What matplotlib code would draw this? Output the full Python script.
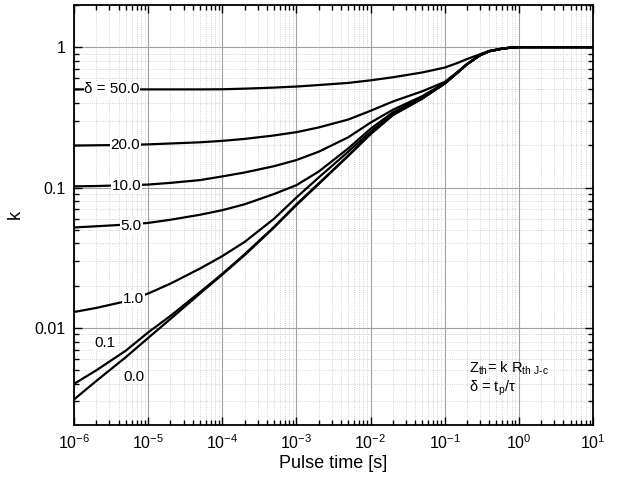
import matplotlib
matplotlib.use("Agg")
import matplotlib.pyplot as plt
import matplotlib.ticker as mticker

plt.rcParams["font.family"] = ["Liberation Sans", "DejaVu Sans"]
plt.rcParams["mathtext.fontset"] = "custom"
plt.rcParams["mathtext.rm"] = "Liberation Sans"

# ---------------------------------------------------------------------------
# Data: pulse time [s] -> k, one list per duty cycle
# ---------------------------------------------------------------------------
t_pts = [1e-6, 2e-6, 5e-6, 1e-5, 2e-5, 5e-5, 1e-4, 2e-4, 5e-4, 1e-3, 2e-3, 5e-3,
         1e-2, 2e-2, 5e-2, 0.1, 0.15, 0.2, 0.3, 0.4, 0.6, 0.8, 1.0, 10.0]

k_50 = [0.500, 0.500, 0.500, 0.500, 0.500, 0.500, 0.501, 0.506, 0.515, 0.524, 0.537, 0.556,
        0.580, 0.610, 0.660, 0.715, 0.772, 0.822, 0.890, 0.940, 0.977, 0.994, 1.0, 1.0]
k_20 = [0.199, 0.200, 0.201, 0.203, 0.206, 0.210, 0.215, 0.222, 0.235, 0.248, 0.268, 0.305,
        0.352, 0.410, 0.485, 0.565, 0.668, 0.758, 0.877, 0.936, 0.975, 0.993, 1.0, 1.0]
k_10 = [0.102, 0.1025, 0.104, 0.105, 0.108, 0.113, 0.120, 0.128, 0.142, 0.157, 0.180, 0.228,
        0.290, 0.358, 0.448, 0.555, 0.662, 0.756, 0.876, 0.935, 0.975, 0.993, 1.0, 1.0]
k_5 = [0.052, 0.053, 0.0545, 0.056, 0.059, 0.064, 0.069, 0.076, 0.090, 0.104, 0.130, 0.190,
       0.262, 0.343, 0.440, 0.552, 0.661, 0.755, 0.875, 0.935, 0.975, 0.993, 1.0, 1.0]
k_1 = [0.0130, 0.0139, 0.0155, 0.0176, 0.0207, 0.0265, 0.0325, 0.041, 0.060, 0.085, 0.118, 0.180,
       0.250, 0.333, 0.434, 0.550, 0.660, 0.755, 0.875, 0.935, 0.975, 0.993, 1.0, 1.0]
k_01 = [0.0040, 0.0050, 0.0069, 0.0093, 0.0122, 0.0180, 0.0243, 0.0335, 0.0525, 0.076, 0.107, 0.169,
        0.241, 0.329, 0.431, 0.550, 0.660, 0.755, 0.875, 0.935, 0.975, 0.993, 1.0, 1.0]
k_00 = [0.0031, 0.0042, 0.0062, 0.0085, 0.0116, 0.0176, 0.0240, 0.0330, 0.0520, 0.075, 0.106, 0.168,
        0.240, 0.328, 0.430, 0.550, 0.660, 0.755, 0.875, 0.935, 0.975, 0.993, 1.0, 1.0]

curves = [k_50, k_20, k_10, k_5, k_1, k_01, k_00]

# curve labels: (text, t, k)
labels = [
    ("\u03b4 = 50.0", 3.25e-6, 0.500),
    ("20.0", 4.9e-6, 0.200),
    ("10.0", 5.1e-6, 0.103),
    ("5.0", 5.9e-6, 0.053),
    ("1.0", 6.4e-6, 0.0160),
    ("0.1", 2.6e-6, 0.0078),
    ("0.0", 6.4e-6, 0.0045),
]

x_major = [1e-6, 1e-5, 1e-4, 1e-3, 1e-2, 1e-1, 1, 10]
y_major = [0.01, 0.1, 1]
y_major_labels = ["0.01", "0.1", "1"]

# ---------------------------------------------------------------------------
fig = plt.figure(figsize=(6.17, 4.84), dpi=100)
ax = fig.add_axes([0.120, 0.122, 0.841, 0.868])

for k in curves:
    ax.plot(t_pts, k, color="black", lw=1.6, zorder=3,
            solid_joinstyle="round", solid_capstyle="butt")

for txt, tx, ky in labels:
    ax.text(tx, ky, txt, fontsize=11, ha="center", va="center", zorder=4,
            bbox=dict(facecolor="white", edgecolor="none", pad=0.6))

ax.set_xscale("log")
ax.set_yscale("log")
ax.set_xlim(1e-6, 10)
ax.set_ylim(0.00204, 2.0)

ax.xaxis.set_major_locator(mticker.FixedLocator(x_major))
ax.yaxis.set_major_locator(mticker.FixedLocator(y_major))
ax.yaxis.set_major_formatter(mticker.FixedFormatter(y_major_labels))
ax.xaxis.set_minor_locator(mticker.LogLocator(base=10, subs=range(2, 10), numticks=20))
ax.yaxis.set_minor_locator(mticker.LogLocator(base=10, subs=range(2, 10), numticks=20))
ax.xaxis.set_minor_formatter(mticker.NullFormatter())
ax.yaxis.set_minor_formatter(mticker.NullFormatter())

ax.tick_params(which="both", direction="in", top=True, right=True,
               labelsize=11.5, width=1.0)
ax.tick_params(which="major", length=6, pad=6)
ax.tick_params(which="minor", length=3.5)

ax.grid(which="major", color="#a0a0a0", lw=0.8, zorder=0)
ax.grid(which="minor", color="#c4c4c4", lw=0.6, ls=":", zorder=0)

for s in ax.spines.values():
    s.set_linewidth(1.3)

ax.set_xlabel("Pulse time [s]", fontsize=13, labelpad=2)
ax.set_ylabel("k", fontsize=13, labelpad=8)

ax.text(0.215, 0.0052, r"Z$_\mathregular{th}$= k R$_\mathregular{th\ J\text{-}c}$",
        fontsize=10.5, ha="left", va="center")
ax.text(0.215, 0.00372, "\u03b4 = t$_\mathregular{p}$/\u03c4",
        fontsize=10.5, ha="left", va="center")

fig.savefig("out.png", dpi=100)
